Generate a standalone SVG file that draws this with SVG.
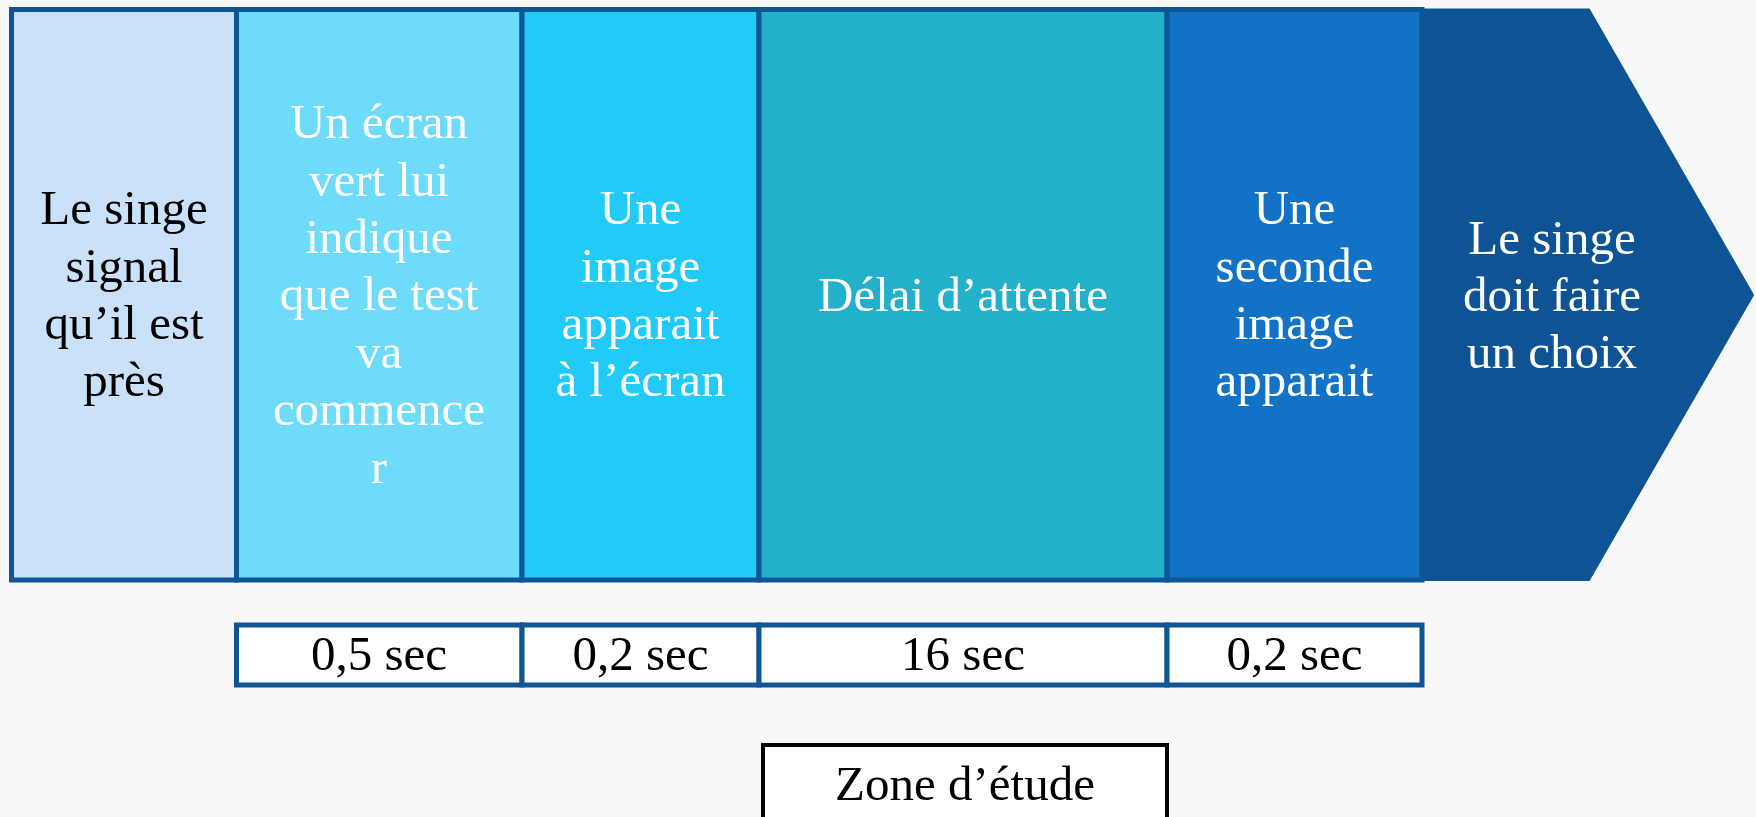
<svg xmlns="http://www.w3.org/2000/svg" width="1756" height="817" viewBox="0 0 1756 817">
<style>
.t{font-family:"Liberation Serif","DejaVu Serif",serif;font-size:49px;text-anchor:middle}
.w{fill:#ffffff}
.k{fill:#000000}
.box{stroke:#0E5595;stroke-width:5}
.dur{fill:#ffffff;stroke:#0E5595;stroke-width:5}
</style>
<rect x="0" y="0" width="1756" height="817" fill="#F8F8F8"/>
<g id="step6">
<polygon points="1422,9.5 1589,9.5 1753,295 1589,580 1422,580" fill="#0E5394" stroke="#0E5595" stroke-width="2"/>
<text class="t w" x="1552" y="254">Le singe</text>
<text class="t w" x="1552" y="311">doit faire</text>
<text class="t w" x="1552" y="368">un choix</text>
</g>
<g id="step1">
<rect class="box" x="11.5" y="9.5" width="225" height="570.5" fill="#C9E2FA"/>
<text class="t k" x="124" y="224">Le singe</text>
<text class="t k" x="124" y="282">signal</text>
<text class="t k" x="124" y="339">qu’il est</text>
<text class="t k" x="124" y="396">près</text>
</g>
<g id="step2">
<rect class="box" x="236.5" y="9.5" width="285.5" height="570.5" fill="#6DDBF9"/>
<text class="t w" x="379" y="138">Un écran</text>
<text class="t w" x="379" y="196">vert lui</text>
<text class="t w" x="379" y="253">indique</text>
<text class="t w" x="379" y="310">que le test</text>
<text class="t w" x="379" y="368">va</text>
<text class="t w" x="379" y="425">commence</text>
<text class="t w" x="379" y="483">r</text>
</g>
<g id="step3">
<rect class="box" x="522" y="9.5" width="237" height="570.5" fill="#22CAF7"/>
<text class="t w" x="640.5" y="224">Une</text>
<text class="t w" x="640.5" y="282">image</text>
<text class="t w" x="640.5" y="339">apparait</text>
<text class="t w" x="640.5" y="396">à l’écran</text>
</g>
<g id="step4">
<rect class="box" x="759" y="9.5" width="408" height="570.5" fill="#22B0CB"/>
<text class="t w" x="963" y="311">Délai d’attente</text>
</g>
<g id="step5">
<rect class="box" x="1167" y="9.5" width="255" height="570.5" fill="#1172C6"/>
<text class="t w" x="1294.5" y="224">Une</text>
<text class="t w" x="1294.5" y="282">seconde</text>
<text class="t w" x="1294.5" y="339">image</text>
<text class="t w" x="1294.5" y="396">apparait</text>
</g>
<g id="durations">
<g id="d1"><rect class="dur" x="236.5" y="625" width="285.5" height="60"/><text class="t k" x="379" y="670">0,5 sec</text></g>
<g id="d2"><rect class="dur" x="522" y="625" width="237" height="60"/><text class="t k" x="640.5" y="670">0,2 sec</text></g>
<g id="d3"><rect class="dur" x="759" y="625" width="408" height="60"/><text class="t k" x="963" y="670">16 sec</text></g>
<g id="d4"><rect class="dur" x="1167" y="625" width="255" height="60"/><text class="t k" x="1294.5" y="670">0,2 sec</text></g>
</g>
<g id="zone">
<rect x="763" y="745" width="404" height="90" fill="#ffffff" stroke="#000000" stroke-width="4"/>
<text class="t k" x="965" y="800">Zone d’étude</text>
</g>
<g id="connectors"></g>
</svg>
